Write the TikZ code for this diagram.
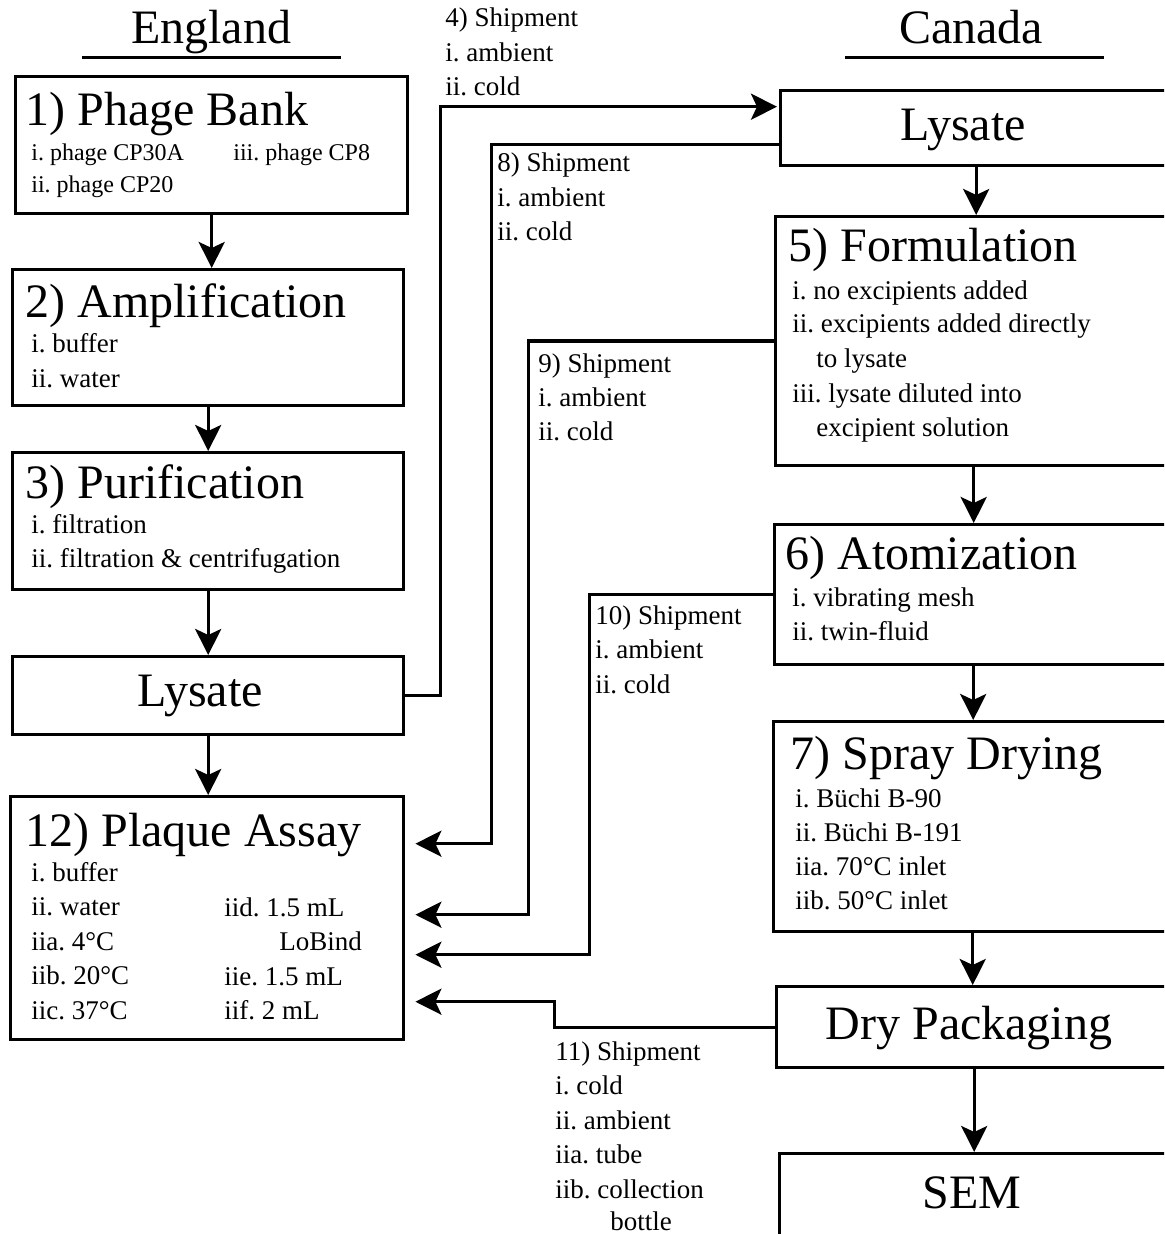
\documentclass[tikz,border=0pt]{standalone}
\usepackage{fontspec}
\setmainfont{Liberation Serif}
\usetikzlibrary{arrows.meta,calc}
\frenchspacing

\begin{document}
\begin{tikzpicture}[x=0.5pt,y=-0.5pt,
    box/.style={draw, line width=1.7pt, rectangle, inner sep=0pt, anchor=north west},
    headtxt/.style={font=\fontsize{24}{28}\selectfont, anchor=base west, inner sep=0pt},
    midtxt/.style={font=\fontsize{24}{28}\selectfont, anchor=base, inner sep=0pt},
    itemtxt/.style={font=\fontsize{13.5}{16}\selectfont, anchor=base west, inner sep=0pt},
    smalltxt/.style={font=\fontsize{12}{14}\selectfont, anchor=base west, inner sep=0pt},
    flow/.style={line width=1.7pt, -{Stealth[length=13pt,width=13pt,inset=3pt]}},
    ship/.style={flow, shorten >=5pt}]
  \useasboundingbox (0,0) rectangle (1164,1234);
  \clip (0,0) rectangle (1164,1234);

  % countries
  \node[midtxt] (eng) at (211,44) {England};
  \node[midtxt] (can) at (971,44) {Canada};
  \draw[line width=1.5pt] (82,58) -- (341,58);
  \draw[line width=1.5pt] (845,58) -- (1104,58);

  % England side
  \node[box, minimum width=196pt, minimum height=68.5pt] (bank) at (14,75) {};
  \node[box, minimum width=195.5pt, minimum height=68pt] (ampl) at (11,268) {};
  \node[box, minimum width=195.5pt, minimum height=68.5pt] (puri) at (11,451) {};
  \node[box, minimum width=195.5pt, minimum height=39pt] (lysL) at (11,655) {};
  \node[box, minimum width=196.5pt, minimum height=121.5pt] (plaq) at (9,795) {};

  \node[headtxt] (bank-t) at (25,126) {1) Phage Bank};
  \node[smalltxt] (bank-1) at (31,161) {i. phage CP30A};
  \node[smalltxt] (bank-3) at (233,161) {iii. phage CP8};
  \node[smalltxt] (bank-2) at (31,193) {ii. phage CP20};

  \node[headtxt] (ampl-t) at (25,318) {2) Amplification};
  \foreach \t [count=\i] in {i. buffer, ii. water}
    \node[itemtxt] (ampl-\i) at (31,{353+34.5*(\i-1)}) {\t};

  \node[headtxt] (puri-t) at (25,498) {3) Purification};
  \foreach \t [count=\i] in {i. filtration, ii. filtration \& centrifugation}
    \node[itemtxt] (puri-\i) at (31,{533+34.5*(\i-1)}) {\t};

  \node[midtxt] (lysL-t) at (200,706) {Lysate};

  \node[headtxt] (plaq-t) at (25,846) {12) Plaque Assay};
  \foreach \t [count=\i] in {i. buffer, ii. water, iia. 4°C, iib. 20°C, iic. 37°C}
    \node[itemtxt] (plaq-\i) at (31,{881+34.5*(\i-1)}) {\t};
  \node[itemtxt] (plaq-d) at (224,916) {iid. 1.5 mL};
  \node[itemtxt] (plaq-lo) at (279,950) {LoBind};
  \node[itemtxt] (plaq-e) at (224,985) {iie. 1.5 mL};
  \node[itemtxt] (plaq-f) at (224,1019) {iif. 2 mL};

  % Canada side
  \node[box, minimum width=195.5pt, minimum height=37.5pt] (lysR) at (779,89) {};
  \node[box, minimum width=198pt, minimum height=124.5pt] (form) at (774,215) {};
  \node[box, minimum width=198.5pt, minimum height=70pt] (atom) at (773,523) {};
  \node[box, minimum width=199pt, minimum height=105pt] (spray) at (772,720) {};
  \node[box, minimum width=197.5pt, minimum height=40.5pt] (dryp) at (775,985) {};
  \node[box, minimum width=196pt, minimum height=49pt] (sem) at (778,1152) {};

  \node[midtxt] (lysR-t) at (963,141) {Lysate};

  \node[headtxt] (form-t) at (788,262) {5) Formulation};
  \node[itemtxt] (form-1) at (792,300) {i. no excipients added};
  \node[itemtxt] (form-2) at (792,333) {ii. excipients added directly};
  \node[itemtxt] (form-2b) at (816,368) {to lysate};
  \node[itemtxt] (form-3) at (792,403) {iii. lysate diluted into};
  \node[itemtxt] (form-3b) at (816,437) {excipient solution};

  \node[headtxt] (atom-t) at (785,569) {6) Atomization};
  \foreach \t [count=\i] in {i. vibrating mesh, ii. twin-fluid}
    \node[itemtxt] (atom-\i) at (792,{606+34*(\i-1)}) {\t};

  \node[headtxt] (spray-t) at (790,769) {7) Spray Drying};
  \foreach \t [count=\i] in {i. Büchi B-90, ii. Büchi B-191, iia. 70°C inlet, iib. 50°C inlet}
    \node[itemtxt] (spray-\i) at (795,{807+34*(\i-1)}) {\t};

  \node[midtxt] (dryp-t) at (969,1039) {Dry Packaging};
  \node[midtxt] (sem-t) at (972,1208) {SEM};

  % main flow
  \draw[flow] (bank.south) -- (bank.south |- ampl.north);
  \draw[flow] (ampl.south) -- (ampl.south |- puri.north);
  \draw[flow] (puri.south) -- (puri.south |- lysL.north);
  \draw[flow] (lysL.south) -- (lysL.south |- plaq.north);
  \draw[flow] (lysR.south) -- (lysR.south |- form.north);
  \draw[flow] (form.south) -- (form.south |- atom.north);
  \draw[flow] (atom.south) -- (atom.south |- spray.north);
  \draw[flow] (spray.south) -- (spray.south |- dryp.north);
  \draw[flow] (dryp.south) -- (dryp.south |- sem.north);

  % shipments
  \coordinate (p8) at ([yshift=37.25pt]plaq.east);
  \coordinate (p9) at ([yshift=1.75pt]plaq.east);
  \coordinate (p10) at ([yshift=-18.25pt]plaq.east);
  \coordinate (p11) at ([yshift=-41.75pt]plaq.east);
  \draw[flow, shorten >=1pt] (lysL.east) -- ++(35,0) |- ([yshift=10.75pt]lysR.west);
  \draw[ship] ([yshift=-8.25pt]lysR.west) -| ([xshift=43pt]p8) -- (p8);
  \draw[ship] (form.west) -| ([xshift=61.5pt]p9) -- (p9);
  \draw[ship] (atom.west) -| ([xshift=92pt]p10) -- (p10);
  \draw[ship] (dryp.west) -| ([xshift=74.5pt]p11) -- (p11);

  \foreach \t [count=\i] in {4) Shipment, i. ambient, ii. cold}
    \node[itemtxt] (s4-\i) at (445,{27+34.5*(\i-1)}) {\t};
  \foreach \t [count=\i] in {8) Shipment, i. ambient, ii. cold}
    \node[itemtxt] (s8-\i) at (497,{172+34.5*(\i-1)}) {\t};
  \foreach \t [count=\i] in {9) Shipment, i. ambient, ii. cold}
    \node[itemtxt] (s9-\i) at (538,{373+34*(\i-1)}) {\t};
  \foreach \t [count=\i] in {10) Shipment, i. ambient, ii. cold}
    \node[itemtxt] (s10-\i) at (595,{624+34.5*(\i-1)}) {\t};
  \foreach \t [count=\i] in {11) Shipment, i. cold, ii. ambient, iia. tube, iib. collection}
    \node[itemtxt] (s11-\i) at (555,{1060+34.5*(\i-1)}) {\t};
  \node[itemtxt] (s11-b) at (610,1230) {bottle};
\end{tikzpicture}
\end{document}
